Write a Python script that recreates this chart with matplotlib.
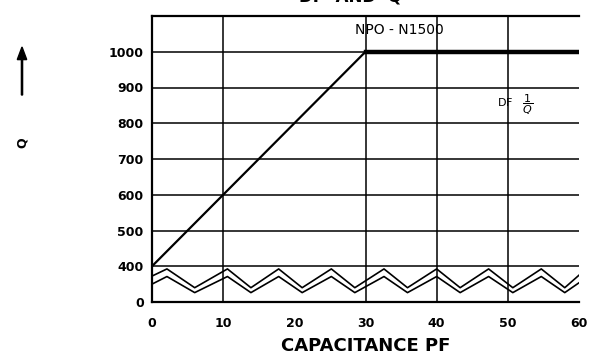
import matplotlib
matplotlib.use("Agg")
import matplotlib.pyplot as plt
import numpy as np

# NPO - N1500 Q curve
q_cap = [0, 30, 60]
q_val = [400, 1000, 1000]

# DF wavy band (upper and lower edge)
df_cap = [0, 2.1, 6.0, 10.6, 13.9, 17.8, 21.1, 25.2, 28.5, 32.6, 35.9, 40.0, 43.3, 47.3, 50.7, 54.7, 58.0, 60]
df_upper = [290, 370, 160, 370, 160, 370, 160, 370, 160, 370, 160, 370, 160, 370, 160, 370, 160, 300]
df_lower = [200, 285, 105, 285, 105, 285, 105, 285, 105, 285, 105, 285, 105, 285, 105, 285, 105, 215]

xticks = [0, 10, 20, 30, 40, 50, 60]
xgrid = [10, 30, 40, 50]
yticks = [0, 400, 500, 600, 700, 800, 900, 1000]
ygrid = [400, 500, 600, 700, 800, 900, 1000]


def fwd(v):
    v = np.asarray(v, dtype=float)
    return np.where(v <= 400, v / 400.0, 1 + (v - 400) / 100.0)


def inv(p):
    p = np.asarray(p, dtype=float)
    return np.where(p <= 1, p * 400.0, 400 + (p - 1) * 100.0)


fig = plt.figure(figsize=(5.89, 3.6), dpi=100)
ax = fig.add_axes([152 / 589, 58 / 360, 427 / 589, 286 / 360])
ax.set_yscale('function', functions=(fwd, inv))
ax.set_xlim(0, 60)
ax.set_ylim(0, 1100)

for g in ygrid:
    ax.axhline(g, color='black', lw=1.1, zorder=1)
for g in xgrid:
    ax.axvline(g, color='black', lw=1.1, zorder=1)

ax.plot(q_cap[:2], q_val[:2], color='black', lw=1.6, zorder=3)
ax.plot(q_cap[1:], q_val[1:], color='black', lw=3.2, zorder=3)
ax.plot(df_cap, df_upper, color='black', lw=1.2, zorder=3)
ax.plot(df_cap, df_lower, color='black', lw=1.2, zorder=3)

ax.set_xticks(xticks)
ax.set_yticks(yticks)
ax.set_xticklabels([str(t) for t in xticks], weight='bold', fontsize=9)
ax.set_yticklabels([str(t) for t in yticks], weight='bold', fontsize=9)
ax.tick_params(length=0)
ax.tick_params(axis='x', pad=11)
ax.tick_params(axis='y', pad=6)
ax.yaxis.set_minor_locator(matplotlib.ticker.NullLocator())
for side in ['left', 'bottom', 'top']:
    ax.spines[side].set_linewidth(1.6)
ax.spines['right'].set_visible(False)

ax.set_xlabel('CAPACITANCE PF', weight='bold', fontsize=13, labelpad=5)

ax.text(34.8, 1060, 'NPO - N1500', fontsize=10, ha='center', va='center')
ax.text(48.5, 851, r'DF   $\dfrac{1}{Q}$', fontsize=8, ha='left', va='center')

fig.text(350 / 589, 1 - 5 / 360, 'DF  AND  Q', weight='bold', fontsize=12,
         ha='center', va='bottom')

fig.patches.append(matplotlib.patches.FancyArrow(
    22 / 589, 1 - 95 / 360, 0, 48 / 360, width=0.002, head_width=0.016,
    head_length=0.035, length_includes_head=True, color='black',
    transform=fig.transFigure, figure=fig))
fig.text(22 / 589, 1 - 143 / 360, 'Q', weight='bold', fontsize=9,
         rotation=90, ha='center', va='center')

fig.savefig('out.png', dpi=100)
